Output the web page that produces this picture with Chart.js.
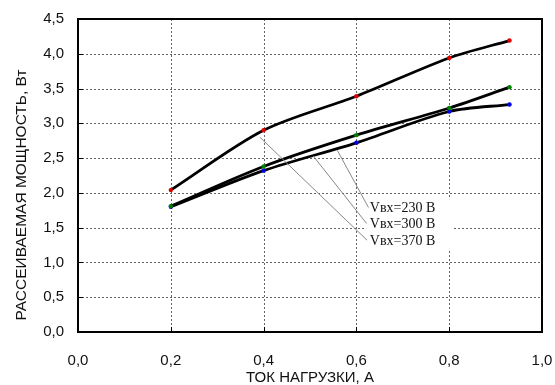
<!DOCTYPE html>
<html>
<head>
<meta charset="utf-8">
<script src="https://cdn.jsdelivr.net/npm/chart.js@4/dist/chart.umd.min.js"></script>
<style>
html,body{margin:0;padding:0;background:#fff;}
#wrap{width:555px;height:385px;position:relative;}
</style>
</head>
<body>
<div id="wrap"><canvas id="c" width="555" height="385"></canvas></div>
<script>
// ---- data ----
const xValues = [0.2, 0.4, 0.6, 0.8, 0.93];
const p230 = [2.04, 2.90, 3.39, 3.94, 4.19];
const p300 = [1.81, 2.38, 2.83, 3.22, 3.52];
const p370 = [1.80, 2.32, 2.72, 3.17, 3.27];
const seriesLabels = ['Vвх=230 В', 'Vвх=300 В', 'Vвх=370 В'];
const pointColors = ['#e00000', '#008000', '#0000e0'];
const xTitle = 'ТОК НАГРУЗКИ, А';
const yTitle = 'РАССЕИВАЕМАЯ МОЩНОСТЬ, Вт';
const xTickLabels = ['0,0', '0,2', '0,4', '0,6', '0,8', '1,0'];
const yTickLabels = ['0,0','0,5','1,0','1,5','2,0','2,5','3,0','3,5','4,0','4,5'];
// leader lines (data coords): [startX, startY, endX, endY]
const leaders = [
  [0.559, 2.61, 0.626, 1.79],
  [0.507, 2.53, 0.622, 1.56],
  [0.392, 2.80, 0.623, 1.32]
];
const labelYs = [1.78, 1.545, 1.305];

function pts(ys){ return xValues.map((x,i)=>({x:x, y:ys[i]})); }

const ds = [p230, p300, p370].map((arr, i) => ({
  label: seriesLabels[i],
  data: pts(arr),
  borderColor: '#000',
  borderWidth: 2.8,
  tension: 0.3,
  pointRadius: 2.2,
  pointHoverRadius: 2.2,
  pointBorderWidth: 0,
  pointBackgroundColor: pointColors[i],
  fill: false
}));

const decorPlugin = {
  id: 'decor',
  beforeDatasetsDraw(chart) {
    const ctx = chart.ctx, a = chart.chartArea, xs = chart.scales.x, ys = chart.scales.y;
    ctx.save();
    ctx.strokeStyle = '#666';
    ctx.lineWidth = 1;
    ctx.setLineDash([2, 2]);
    ys.ticks.forEach(t => {
      if (t.value <= 0 || t.value >= 4.5) return;
      const py = Math.round(ys.getPixelForValue(t.value)) + 0.5;
      ctx.beginPath(); ctx.moveTo(a.left, py); ctx.lineTo(a.right, py); ctx.stroke();
    });
    xs.ticks.forEach(t => {
      if (t.value <= 0 || t.value >= 1) return;
      const px = Math.round(xs.getPixelForValue(t.value)) + 0.5;
      ctx.beginPath(); ctx.moveTo(px, a.top); ctx.lineTo(px, a.bottom); ctx.stroke();
    });
    ctx.restore();
  },
  afterDatasetsDraw(chart) {
    const ctx = chart.ctx, xs = chart.scales.x, ys = chart.scales.y;
    ctx.save();
    // white label box
    const bx0 = xs.getPixelForValue(0.621), bx1 = xs.getPixelForValue(0.806);
    const by0 = ys.getPixelForValue(1.91), by1 = ys.getPixelForValue(1.18);
    ctx.fillStyle = '#fff';
    ctx.fillRect(bx0, by0, bx1 - bx0, by1 - by0);
    // leader lines
    ctx.strokeStyle = '#888';
    ctx.lineWidth = 1;
    leaders.forEach(l => {
      ctx.beginPath();
      ctx.moveTo(xs.getPixelForValue(l[0]), ys.getPixelForValue(l[1]));
      ctx.lineTo(xs.getPixelForValue(l[2]), ys.getPixelForValue(l[3]));
      ctx.stroke();
    });
    // labels
    ctx.fillStyle = '#111';
    ctx.font = '14px "Liberation Serif", "Times New Roman", serif';
    ctx.textAlign = 'left';
    ctx.textBaseline = 'middle';
    seriesLabels.forEach((t, i) => {
      ctx.fillText(t, xs.getPixelForValue(0.629), ys.getPixelForValue(labelYs[i]));
    });
    ctx.restore();
  },
  afterDraw(chart) {
    const ctx = chart.ctx, a = chart.chartArea, xs = chart.scales.x, ys = chart.scales.y;
    ctx.save();
    // inward ticks
    ctx.strokeStyle = '#000';
    ctx.lineWidth = 1;
    ys.ticks.forEach(t => {
      const py = Math.round(ys.getPixelForValue(t.value)) + 0.5;
      ctx.beginPath(); ctx.moveTo(a.left, py); ctx.lineTo(a.left + 5, py); ctx.stroke();
    });
    xs.ticks.forEach(t => {
      const px = Math.round(xs.getPixelForValue(t.value)) + 0.5;
      ctx.beginPath(); ctx.moveTo(px, a.bottom); ctx.lineTo(px, a.bottom - 5); ctx.stroke();
    });
    // frame
    ctx.lineWidth = 2;
    ctx.strokeStyle = '#000';
    ctx.strokeRect(a.left, a.top, a.right - a.left, a.bottom - a.top);
    // axis titles
    ctx.fillStyle = '#111';
    ctx.font = '15px "Liberation Sans", Arial, sans-serif';
    ctx.textAlign = 'center';
    ctx.textBaseline = 'middle';
    ctx.fillText(xTitle, (a.left + a.right) / 2, 378);
    ctx.translate(22, 195);
    ctx.rotate(-Math.PI / 2);
    ctx.font = '15.5px "Liberation Sans", Arial, sans-serif';
    ctx.fillText(yTitle, 0, 0);
    ctx.restore();
  }
};

new Chart(document.getElementById('c'), {
  type: 'line',
  data: { datasets: ds },
  options: {
    responsive: false,
    animation: false,
    events: [],
    layout: { padding: { top: 19, right: 13, left: 0, bottom: 0 } },
    plugins: { legend: { display: false }, tooltip: { enabled: false } },
    scales: {
      x: {
        type: 'linear', min: 0, max: 1,
        ticks: {
          stepSize: 0.2, padding: 20, color: '#111',
          font: { family: '"Liberation Sans", Arial, sans-serif', size: 15 },
          callback: (v) => xTickLabels[Math.round(v / 0.2)]
        },
        grid: { display: false, drawTicks: false },
        border: { display: false },
        afterFit(s) { s.height = 53; s.paddingLeft = 0; s.paddingRight = 0; }
      },
      y: {
        min: 0, max: 4.5,
        ticks: {
          stepSize: 0.5, padding: 14, color: '#111',
          font: { family: '"Liberation Sans", Arial, sans-serif', size: 15 },
          callback: (v) => yTickLabels[Math.round(v / 0.5)]
        },
        grid: { display: false, drawTicks: false },
        border: { display: false },
        afterFit(s) { s.width = 78; s.paddingTop = 0; s.paddingBottom = 0; }
      }
    }
  },
  plugins: [decorPlugin]
});
</script>
</body>
</html>
